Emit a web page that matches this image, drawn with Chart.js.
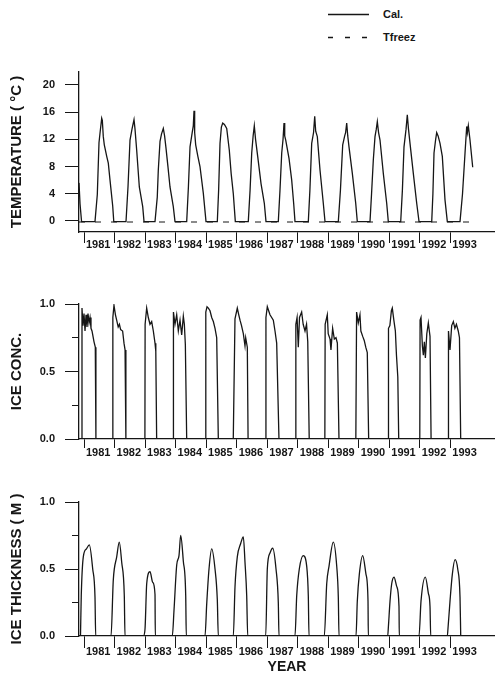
<!DOCTYPE html>
<html>
<head>
<meta charset="utf-8">
<title>Temperature, ice concentration and ice thickness 1981-1993</title>
<script src="https://cdn.jsdelivr.net/npm/chart.js@4.4.1/dist/chart.umd.min.js"></script>
<style>
  html, body { margin: 0; padding: 0; background: #fff; }
  body { position: relative; width: 495px; height: 674px; overflow: hidden;
         font-family: "Liberation Sans", Arial, sans-serif; color: #161616; }
  .panel { position: absolute; left: 0; width: 495px; }
  .legend-text { position: absolute; left: 383px; font-size: 11px; line-height: 13px; font-weight: bold; }
</style>
</head>
<body>
<svg style="position:absolute;left:0;top:0" width="495" height="50">
  <line x1="328" y1="14.5" x2="369" y2="14.5" stroke="#161616" stroke-width="1.3"/>
  <line x1="328" y1="37.5" x2="369" y2="37.5" stroke="#161616" stroke-width="1.3" stroke-dasharray="5 12"/>
</svg>
<div class="legend-text" style="top:8px">Cal.</div>
<div class="legend-text" style="top:31px">Tfreez</div>

<div class="panel" style="top:55px;height:200px"><canvas id="temp" width="495" height="200"></canvas></div>
<div class="panel" style="top:284px;height:179px"><canvas id="conc" width="495" height="179"></canvas></div>
<div class="panel" style="top:482px;height:192px"><canvas id="thick" width="495" height="192"></canvas></div>

<script>
// tick labels
const yearTicks = [1981, 1982, 1983, 1984, 1985, 1986, 1987, 1988, 1989, 1990, 1991, 1992, 1993];
const tempTicks = [0, 4, 8, 12, 16, 20];
const fracTicks = [0, 0.25, 0.5, 0.75, 1];

// calculated water temperature (deg C), x in decimal years
const tempYears = [
  1980.836, 1980.870, 1980.920,
  1981.360, 1981.436, 1981.491, 1981.524, 1981.580, 1981.600, 1981.632, 1981.665, 1981.744, 1981.796, 1981.852, 1981.940, 1981.975,
  1982.376, 1982.441, 1982.507, 1982.572, 1982.638, 1982.671, 1982.726, 1982.812, 1982.923, 1982.966,
  1983.326, 1983.400, 1983.434, 1983.490, 1983.540, 1983.598, 1983.640, 1983.686, 1983.750, 1983.817, 1983.925, 1983.981,
  1984.364, 1984.420, 1984.473, 1984.548, 1984.580, 1984.604, 1984.625, 1984.659, 1984.730, 1984.800, 1984.908, 1984.997,
  1985.367, 1985.410, 1985.455, 1985.500, 1985.544, 1985.600, 1985.675, 1985.760, 1985.820, 1985.891, 1985.957,
  1986.382, 1986.440, 1986.494, 1986.540, 1986.579, 1986.620, 1986.690, 1986.799, 1986.907, 1986.962,
  1987.365, 1987.420, 1987.477, 1987.520, 1987.552, 1987.575, 1987.608, 1987.716, 1987.804, 1987.870, 1987.912,
  1988.348, 1988.400, 1988.459, 1988.520, 1988.558, 1988.590, 1988.643, 1988.731, 1988.839, 1988.895,
  1989.331, 1989.400, 1989.475, 1989.540, 1989.570, 1989.606, 1989.640, 1989.681, 1989.790, 1989.901, 1989.953,
  1990.369, 1990.420, 1990.478, 1990.533, 1990.575, 1990.609, 1990.650, 1990.697, 1990.805, 1990.916, 1990.969,
  1991.375, 1991.430, 1991.483, 1991.550, 1991.591, 1991.630, 1991.680, 1991.788, 1991.899, 1991.975,
  1992.391, 1992.430, 1992.466, 1992.520, 1992.554, 1992.600, 1992.663, 1992.738, 1992.826, 1992.902,
  1993.318, 1993.400, 1993.482, 1993.537, 1993.560, 1993.590, 1993.645, 1993.734
];
const tempValues = [
  5.6, 2.5, -0.1,
  -0.1, 3.9, 11.5, 12.9, 15.1, 14.8, 12.4, 11.2, 9.5, 8.5, 6.0, 2.2, -0.1,
  -0.1, 5.0, 11.9, 13.5, 14.9, 13.5, 10.4, 5.0, 2.1, -0.1,
  -0.1, 3.5, 7.5, 11.7, 12.8, 13.6, 12.5, 10.7, 8.0, 5.0, 2.1, -0.1,
  -0.1, 5.0, 10.9, 13.1, 14.0, 16.2, 13.0, 11.2, 9.5, 8.0, 4.1, -0.1,
  -0.1, 4.5, 11.4, 13.8, 14.4, 14.2, 13.6, 10.4, 7.0, 4.0, -0.1,
  -0.1, 4.5, 10.0, 12.5, 14.0, 12.0, 9.5, 5.5, 2.6, -0.1,
  -0.1, 4.5, 10.0, 12.0, 14.4, 12.5, 11.9, 9.2, 6.0, 2.5, -0.1,
  -0.1, 4.5, 11.4, 13.0, 15.4, 13.2, 12.4, 7.5, 2.6, -0.1,
  -0.1, 4.5, 11.2, 12.5, 13.0, 14.4, 12.5, 10.9, 7.0, 2.6, -0.1,
  -0.1, 4.0, 9.0, 12.4, 13.5, 14.6, 13.0, 11.9, 7.0, 2.6, -0.1,
  -0.1, 4.5, 10.9, 13.5, 15.6, 13.5, 11.4, 7.0, 2.6, -0.1,
  -0.1, 4.0, 10.0, 12.0, 13.0, 12.5, 11.4, 9.5, 3.1, -0.1,
  -0.1, 4.0, 10.0, 13.9, 13.0, 14.0, 11.9, 7.9
];

// freezing temperature line
const freezeYears = [1980.836, 1993.734];
const freezeValues = [-0.15, -0.15];

// ice concentration
const concYears = [
  1980.836, 1980.925, 1980.934, 1980.967, 1981.000, 1981.033, 1981.066, 1981.098, 1981.131, 1981.164, 1981.197, 1981.229, 1981.262, 1981.295, 1981.328, 1981.370, 1981.390,
  1981.935, 1981.945, 1981.982, 1982.030, 1982.070, 1982.120, 1982.160, 1982.200, 1982.265, 1982.310, 1982.345, 1982.372,
  1982.995, 1983.002, 1983.053, 1983.107, 1983.162, 1983.217, 1983.271, 1983.326, 1983.352, 1983.380,
  1983.920, 1983.930, 1983.981, 1984.036, 1984.090, 1984.145, 1984.200, 1984.254, 1984.287, 1984.320, 1984.364,
  1984.983, 1984.990, 1985.030, 1985.074, 1985.128, 1985.183, 1985.237, 1985.292, 1985.347, 1985.400,
  1985.890, 1985.946, 1986.022, 1986.070, 1986.111, 1986.160, 1986.219, 1986.274, 1986.297, 1986.350, 1986.375,
  1986.950, 1986.960, 1987.005, 1987.093, 1987.202, 1987.257, 1987.312, 1987.387,
  1987.930, 1987.940, 1987.980, 1988.020, 1988.060, 1988.130, 1988.180, 1988.240, 1988.290, 1988.330, 1988.378,
  1988.890, 1988.900, 1988.970, 1989.000, 1989.060, 1989.090, 1989.145, 1989.200, 1989.255, 1989.300, 1989.353,
  1989.905, 1989.930, 1989.985, 1990.040, 1990.070, 1990.130, 1990.180, 1990.230, 1990.280, 1990.325,
  1990.965, 1990.975, 1991.020, 1991.070, 1991.100, 1991.150, 1991.200, 1991.236, 1991.280, 1991.310,
  1992.000, 1992.010, 1992.040, 1992.085, 1992.117, 1992.150, 1992.183, 1992.230, 1992.280, 1992.335, 1992.370,
  1992.930, 1992.940, 1992.990, 1993.045, 1993.100, 1993.150, 1993.200, 1993.260, 1993.300, 1993.340
];
const concValues = [
  0, 0, 0.97, 0.84, 0.93, 0.80, 0.92, 0.83, 0.93, 0.86, 0.90, 0.82, 0.80, 0.76, 0.72, 0.68, 0,
  0, 0.90, 0.99, 0.92, 0.88, 0.83, 0.85, 0.81, 0.80, 0.71, 0.66, 0,
  0, 0.85, 0.97, 0.90, 0.85, 0.87, 0.80, 0.71, 0.65, 0,
  0, 0.94, 0.85, 0.92, 0.80, 0.88, 0.77, 0.91, 0.85, 0.70, 0,
  0, 0.94, 0.98, 0.97, 0.95, 0.90, 0.87, 0.82, 0.75, 0,
  0, 0.89, 0.97, 0.92, 0.88, 0.84, 0.78, 0.69, 0.75, 0.68, 0,
  0, 0.90, 0.98, 0.92, 0.88, 0.80, 0.71, 0,
  0, 0.85, 0.90, 0.68, 0.90, 0.94, 0.85, 0.80, 0.85, 0.72, 0,
  0, 0.85, 0.92, 0.78, 0.74, 0.66, 0.82, 0.74, 0.75, 0.71, 0,
  0, 0.94, 0.86, 0.92, 0.80, 0.76, 0.73, 0.68, 0.64, 0,
  0, 0.82, 0.84, 0.95, 0.97, 0.88, 0.80, 0.62, 0.46, 0,
  0, 0.88, 0.90, 0.69, 0.62, 0.72, 0.60, 0.78, 0.86, 0.76, 0,
  0, 0.80, 0.66, 0.84, 0.87, 0.82, 0.85, 0.80, 0.75, 0
];

// ice thickness (m)
const thickYears = [
  1980.885, 1980.910, 1980.977, 1981.080, 1981.174, 1981.285, 1981.360, 1981.383,
  1981.885, 1981.960, 1982.071, 1982.156, 1982.235, 1982.320, 1982.343,
  1982.943, 1982.998, 1983.054, 1983.162, 1983.251, 1983.326, 1983.336,
  1983.893, 1983.948, 1984.037, 1984.112, 1984.168, 1984.253, 1984.332, 1984.351,
  1984.964, 1985.020, 1985.095, 1985.183, 1985.292, 1985.367, 1985.400,
  1985.891, 1985.947, 1986.022, 1986.133, 1986.219, 1986.274, 1986.330, 1986.363,
  1986.953, 1987.005, 1987.093, 1987.182, 1987.290, 1987.365, 1987.388,
  1987.912, 1987.968, 1988.053, 1988.184, 1988.296, 1988.348, 1988.371,
  1988.872, 1988.951, 1989.026, 1989.167, 1989.279, 1989.331, 1989.354,
  1989.911, 1989.953, 1990.019, 1990.130, 1990.238, 1990.304, 1990.314,
  1990.949, 1990.969, 1991.025, 1991.080, 1991.156, 1991.244, 1991.319, 1991.329,
  1991.975, 1992.040, 1992.181, 1992.280, 1992.335, 1992.358,
  1992.902, 1992.925, 1992.990, 1993.066, 1993.154, 1993.243, 1993.318, 1993.341
];
const thickValues = [
  0, 0.30, 0.59, 0.65, 0.68, 0.50, 0.29, 0,
  0, 0.42, 0.59, 0.70, 0.55, 0.30, 0,
  0, 0.05, 0.39, 0.48, 0.40, 0.31, 0,
  0, 0.19, 0.53, 0.60, 0.75, 0.56, 0.30, 0,
  0, 0.24, 0.50, 0.65, 0.50, 0.27, 0,
  0, 0.37, 0.59, 0.69, 0.74, 0.55, 0.30, 0,
  0, 0.50, 0.62, 0.655, 0.50, 0.25, 0,
  0, 0.30, 0.50, 0.60, 0.52, 0.30, 0,
  0, 0.39, 0.52, 0.70, 0.52, 0.29, 0,
  0, 0.26, 0.46, 0.60, 0.46, 0.26, 0,
  0, 0.06, 0.26, 0.39, 0.44, 0.37, 0.22, 0,
  0, 0.26, 0.44, 0.32, 0.22, 0,
  0, 0.06, 0.26, 0.46, 0.57, 0.50, 0.29, 0
];

const ink = '#161616';
const xMin = 1980.836, xMax = 1994.464;

Chart.defaults.font.family = '"Liberation Sans", Arial, sans-serif';
Chart.defaults.font.weight = 'bold';
Chart.defaults.color = ink;

function points(xs, ys) {
  return xs.map((x, i) => ({ x: x, y: ys[i] }));
}

function isMinor(v) {
  return Math.abs(v * 2 - Math.round(v * 2)) > 1e-6;
}

function xAxis(height, tickLength, padding, title) {
  return {
    type: 'linear',
    min: xMin,
    max: xMax,
    afterBuildTicks: s => { s.ticks = yearTicks.map(v => ({ value: v })); },
    afterFit: s => { s.height = height; },
    border: { color: ink, width: 1.3 },
    grid: { drawOnChartArea: false, tickLength: tickLength, tickColor: ink, tickWidth: 1 },
    ticks: {
      color: ink, font: { size: 11, weight: 'bold' }, padding: padding, align: 'start', labelOffset: 2,
      maxRotation: 0, autoSkip: false, callback: v => String(v)
    },
    title: title
      ? { display: true, text: title, color: ink, font: { size: 14, weight: 'bold' }, padding: { top: 0, bottom: -2 } }
      : { display: false }
  };
}

function yAxis(min, max, tickValues, label, fmt) {
  return {
    min: min,
    max: max,
    afterBuildTicks: s => { s.ticks = tickValues.map(v => ({ value: v })); },
    afterFit: s => { s.width = 79; },
    border: { color: ink, width: 1.3 },
    grid: {
      drawOnChartArea: false, tickLength: 14, tickColor: ink, tickWidth: 1,
      // minor ticks only get the inner half of the tick mark
      tickBorderDash: ctx => (ctx.tick && isMinor(ctx.tick.value) ? [0, 7, 7, 0] : [])
    },
    ticks: { color: ink, font: { size: 11, weight: 'bold' }, padding: 10, callback: fmt },
    title: { display: true, text: label, color: ink, font: { size: 15, weight: 'bold' }, padding: { top: 8, bottom: 0 } }
  };
}

function lineSet(xs, ys, extra) {
  return Object.assign({
    data: points(xs, ys),
    borderColor: ink,
    borderWidth: 1.3,
    pointRadius: 0,
    fill: false,
    tension: 0
  }, extra || {});
}

function baseOptions(padTop, scales) {
  return {
    responsive: false,
    animation: false,
    events: [],
    layout: { padding: { top: padTop, right: 0, bottom: 0, left: 0 } },
    plugins: { legend: { display: false }, tooltip: { enabled: false } },
    scales: scales
  };
}

new Chart(document.getElementById('temp'), {
  type: 'line',
  data: {
    datasets: [
      lineSet(tempYears, tempValues, { label: 'Cal.' }),
      lineSet(freezeYears, freezeValues, { label: 'Tfreez', borderDash: [6, 10], borderWidth: 1.2 })
    ]
  },
  options: baseOptions(17, {
    x: xAxis(23, 11, -5, null),
    y: yAxis(-1.62, 21.9, tempTicks, 'TEMPERATURE ( °C )', v => String(v))
  })
});

new Chart(document.getElementById('conc'), {
  type: 'line',
  data: { datasets: [lineSet(concYears, concValues, { label: 'Ice conc.' })] },
  options: baseOptions(20, {
    x: xAxis(24, 9, -2, null),
    y: yAxis(0, 1, fracTicks, 'ICE CONC.', v => (isMinor(v) ? '' : v.toFixed(1)))
  })
});

new Chart(document.getElementById('thick'), {
  type: 'line',
  data: { datasets: [lineSet(thickYears, thickValues, { label: 'Ice thickness', cubicInterpolationMode: 'monotone' })] },
  options: baseOptions(20, {
    x: xAxis(38, 12, -3, 'YEAR'),
    y: yAxis(0, 1, fracTicks, 'ICE THICKNESS ( M )', v => (isMinor(v) ? '' : v.toFixed(1)))
  })
});
</script>
</body>
</html>
